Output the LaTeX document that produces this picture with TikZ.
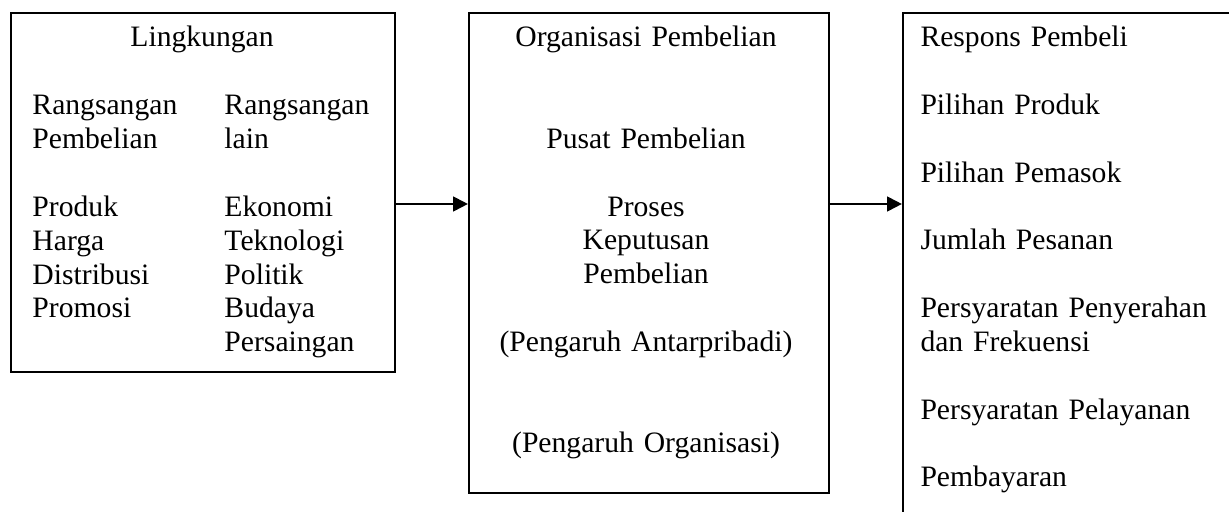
\documentclass[tikz,border=0pt]{standalone}
\usepackage{fontspec}
\setmainfont{Liberation Serif}
\usepackage{tikz}
\usetikzlibrary{positioning}
\usetikzlibrary{arrows.meta}

\begin{document}
\begin{tikzpicture}[x=0.405pt,y=-0.405pt,node distance=29.16pt,>={Triangle[length=6pt,width=6pt]},
    box/.style={draw,line width=0.8pt,inner sep=0pt},
    isi/.style={inner sep=0pt,font=\fontsize{12pt}{13.7pt}\selectfont}]
  \useasboundingbox (0,0) rectangle (1229,512);
  \clip (0,0) rectangle (1229,512);
  \node[box,anchor=north west,minimum width=155.5pt,minimum height=145.4pt] (lingkungan) at (10,12) {};
  \node[box,right=of lingkungan.north east,anchor=north west,minimum width=145.8pt,minimum height=194.4pt] (organisasi) {};
  \node[box,right=of organisasi.north east,anchor=north west,minimum width=162pt,minimum height=243pt] (respons) {};
  \coordinate (level) at (0,204);
  \draw[->,line width=0.8pt] (lingkungan.east |- level) -- (organisasi.west |- level);
  \draw[->,line width=0.8pt] (organisasi.east |- level) -- (respons.west |- level);
  % isi kotak
  \node[isi,anchor=base] (judul) at (202,47) {Lingkungan};
  \node[isi,anchor=base west,text width=70pt,align=left] (kolom1) at (32,115)
    {Rangsangan\\Pembelian\\[13.7pt]Produk\\Harga\\Distribusi\\Promosi};
  \node[isi,anchor=base west,text width=70pt,align=left] (kolom2) at (224,115)
    {Rangsangan\\lain\\[13.7pt]Ekonomi\\Teknologi\\Politik\\Budaya\\Persaingan};
  \node[isi,anchor=base,text width=140pt,align=center] (pusat) at (646,47)
    {Organisasi Pembelian\\[27.4pt]Pusat Pembelian\\[13.7pt]Proses\\Keputusan\\Pembelian\\[13.7pt](Pengaruh Antarpribadi)\\[27.4pt](Pengaruh Organisasi)};
  \node[isi,anchor=base west,text width=150pt,align=left] (pilihan) at (920,47)
    {Respons Pembeli\\[13.7pt]Pilihan Produk\\[13.7pt]Pilihan Pemasok\\[13.7pt]Jumlah Pesanan\\[13.7pt]Persyaratan Penyerahan\\dan Frekuensi\\[13.7pt]Persyaratan Pelayanan\\[13.7pt]Pembayaran};
\end{tikzpicture}
\end{document}
